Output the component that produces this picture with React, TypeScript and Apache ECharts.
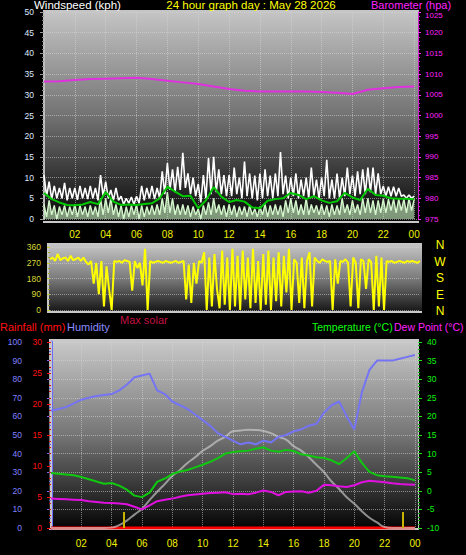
import { useEffect, useRef } from "react";
import * as echarts from "echarts";

// ---------- data ----------
const hourLabels = ["02", "04", "06", "08", "10", "12", "14", "16", "18", "20", "22", "00"];
const compassLabels = ["N", "W", "S", "E", "N"];
const baroMin = 975;
const baroMax = 1025;

// wind gust (kph), 10-minute samples 00:00 .. 24:00
const gust10 = [
  10.6, 5.5, 9, 4.8, 8, 5,
  7.5, 5, 8.7, 4.5, 7.5, 5,
  7.5, 4.6, 8, 5, 7.5, 4.8,
  8, 5, 7.5, 4.5, 10.6, 5.5,
  9, 5, 7, 4.5, 7.5, 4.5,
  5.5, 3.5, 5, 3.8, 5.3, 3.5,
  5.5, 3.8, 8, 4.5, 7.5, 5,
  8, 4.8, 7.5, 5, 11.5, 6,
  13.5, 7, 12, 6.5, 12.6, 7,
  16, 7.5, 11, 6, 10, 5.5,
  8.5, 4, 10.6, 5, 14.7, 6,
  15, 6.5, 12, 6, 10.6, 5.5,
  10.6, 5.5, 12.4, 6, 10, 5,
  13.9, 5.5, 11, 5, 10.5, 4.5,
  11, 5, 12, 5.5, 10.5, 5,
  11, 5.5, 16.2, 6, 10.5, 5,
  10, 5.5, 11, 5, 9.5, 5.5,
  10, 5, 12.4, 5.5, 9.5, 5,
  10, 5.5, 14.3, 5, 9.5, 5,
  11, 5, 10, 5.5, 12.4, 6,
  10.5, 5.5, 11.5, 6, 12, 6,
  12.4, 6.5, 12.4, 6, 11, 6,
  8, 5.5, 7.8, 5.5, 7.8, 5.5,
  7.5, 5.5, 5.8, 5, 5.8, 5,
  5.5,
];

// wind speed (kph), 10-minute samples
const speed10 = [
  3.5, 0.5, 4.5, 1, 3.3, 0,
  3, 1, 3.3, 0.5, 3, 1,
  3.5, 0.5, 3.3, 1, 3, 0.5,
  3.3, 1, 3, 0.5, 5, 1,
  5, 1.5, 5, 1, 3.5, 0.5,
  3.3, 0, 3, 0.5, 3.3, 1,
  3.5, 0, 3.3, 0.5, 3, 1,
  3.3, 1, 3.5, 1, 5, 1.5,
  6.5, 1.5, 5, 1, 3.5, 1,
  3.5, 1, 3.3, 0.5, 3, 1,
  2.5, 0, 3.3, 1, 4, 1,
  5, 1.5, 3.5, 1, 3.3, 0.5,
  3.5, 1, 3.3, 0.5, 3, 1,
  3, 0.5, 3.3, 1, 2.5, 0.5,
  3, 1, 3.5, 0.5, 3.3, 1,
  3.5, 1, 3.3, 0.5, 4.5, 1.5,
  5, 1.5, 4.5, 1, 3.5, 1,
  5, 1, 3.5, 1.5, 3.3, 1,
  3.5, 1, 3.3, 0.5, 3.5, 1,
  3.3, 1, 5, 1.5, 3.5, 1,
  4.5, 1.5, 3.5, 1, 5, 1.5,
  5, 1.5, 4.5, 1, 4.5, 1.5,
  4.8, 1.5, 4.8, 2, 4.8, 1.5,
  4.8, 2, 4.8, 1.5, 5, 2,
  4.8,
];

// average wind speed (kph), 30-minute samples
const avg30 = [
  6.3, 4.8, 4.0, 3.4, 3.3, 3.5, 4.1, 3.6, 6.5, 4.2, 3.4, 3.5,
  3.4, 3.6, 3.8, 5.0, 7.8, 6.6, 5.5, 5.6, 2.6, 4.5, 7.7, 5.4,
  4.1, 4.6, 4.2, 2.8, 2.6, 4.4, 4.8, 5.0, 6.3, 5.8, 4.8, 5.5,
  4.5, 3.9, 4.3, 6.3, 5.2, 4.6, 7.3, 5.8, 5.6, 5.0, 4.9, 4.9,
  4.8,
];

// barometer (hPa), hourly
const baroHourly = [
  1008.2, 1008.3, 1008.6, 1008.8, 1008.9, 1009.0, 1009.1, 1008.8, 1008.4, 1008.0,
  1007.6, 1007.0, 1006.4, 1006.0, 1005.8, 1005.8, 1005.8, 1005.8, 1005.7, 1005.5,
  1005.2, 1006.2, 1006.6, 1006.9, 1007.0,
];

// wind direction (degrees), 10-minute samples
const dir10 = [
  290, 300, 280, 320, 285, 295,
  300, 280, 310, 285, 290, 300,
  280, 300, 275, 260, 280, 150,
  270, 90, 280, 20, 250, 120,
  0, 280, 275, 280, 270, 285,
  280, 275, 110, 280, 240, 270,
  140, 350, 0, 280, 270, 275,
  280, 275, 270, 280, 275, 270,
  275, 280, 270, 275, 280, 60,
  260, 40, 270, 150, 280, 270,
  330, 0, 300, 20, 320, 120,
  10, 340, 30, 300, 0, 350,
  20, 310, 0, 340, 60, 300,
  10, 350, 40, 280, 0, 320,
  30, 340, 0, 300, 50, 330,
  20, 310, 100, 350, 0, 290,
  270, 40, 300, 10, 280, 330,
  20, 300, 280, 270, 290, 280,
  275, 280, 0, 290, 150, 280,
  275, 290, 270, 20, 300, 270,
  10, 290, 280, 120, 290, 275,
  0, 310, 20, 300, 0, 280,
  275, 280, 270, 275, 280, 275,
  270, 280, 275, 280, 275, 270,
  280,
];

// humidity (%), 30-minute samples
const humidity30 = [
  63, 64, 65, 67, 69, 70, 71, 71.5, 72, 74, 77, 81,
  82, 83, 74, 72, 68, 66, 64, 61, 58, 55, 51, 49,
  47, 45, 46, 45, 47, 46, 49, 50, 52, 53, 55, 56,
  62, 66, 68, 60, 53, 73, 85, 90, 90, 90, 91, 92,
  93,
];

// temperature (°C), 30-minute samples
const temp30 = [
  4.8, 4.6, 4.4, 4.2, 3.7, 3.1, 2.5, 1.9, 2.1, 1.4, 0.3, -1.3,
  -1.7, -0.5, 2.4, 3.3, 4.5, 5.2, 5.6, 6.3, 7.0, 7.8, 8.8, 10.0,
  10.4, 10.6, 10.8, 11.3, 11.7, 10.8, 10.5, 11.0, 10.7, 9.8, 9.5, 9.0,
  8.8, 8.2, 7.2, 8.8, 10.6, 7.5, 5.1, 4.2, 3.9, 3.8, 3.6, 3.4,
  2.8,
];

// dew point (°C), 30-minute samples
const dew30 = [
  -2.1, -2.2, -2.3, -2.4, -2.5, -2.8, -3.0, -3.2, -3.3, -3.4, -3.6, -4.3,
  -5.0, -3.9, -2.8, -2.4, -2.1, -1.6, -1.2, -1.0, -0.8, -0.6, -0.5, -0.4,
  -0.9, -0.8, -0.9, -0.5, 0.1, -0.3, -1.2, -0.3, -0.2, -0.1, -0.5, 0.0,
  1.6, 1.5, 1.2, 1.0, 1.5, 2.3, 2.7, 2.5, 2.3, 2.0, 1.8, 1.7,
  1.6,
];

// max solar (W/m²), 30-minute samples
const solar30 = [
  0, 0, 0, 0, 0, 0, 0, 0, 2, 15, 40, 72,
  104, 150, 195, 236, 280, 312, 350, 380, 415, 440, 470, 490,
  520, 524, 528, 527, 522, 510, 490, 475, 440, 416, 380, 340,
  300, 250, 210, 165, 130, 90, 55, 30, 5, 0, 0, 0,
  0,
];

// rainfall (mm), hourly
const rainHourly = [0, 0, 0, 0, 0, 0, 0, 0, 0, 0, 0, 0, 0, 0, 0, 0, 0, 0, 0, 0, 0, 0, 0, 0, 0];
const rainMarkTimes = [4.8, 23.2];

// ---------- helpers ----------
const pts = (arr: number[], step: number) => arr.map((v, i) => [i * step, v]);
const FONT = "Liberation Sans, Arial, sans-serif";
const hourFmt = (v: number) => {
  if (v <= 0 || Math.abs(v % 2) > 1e-6) return "";
  return hourLabels[v / 2 - 1] ?? "";
};
const plain = (v: number) => String(v);
const baroFmt = (v: number) => (v === baroMax ? `{t|${v}}` : String(v));
const grad = (top: string, mid: string, bottom: string) =>
  new echarts.graphic.LinearGradient(0, 0, 0, 1, [
    { offset: 0, color: top },
    { offset: 0.5, color: mid },
    { offset: 1, color: bottom },
  ]);

const gridLine = { show: true, lineStyle: { color: "rgba(215,215,215,0.55)", type: "dotted" as const, width: 1 } };

export default function App() {
  const ref = useRef<HTMLDivElement>(null);
  useEffect(() => {
    if (!ref.current) return;
    const chart = echarts.init(ref.current, null, { renderer: "svg" });

    const txt = (text: string, x: number, y: number, color: string, size = 11, align = "left") => ({
      type: "text",
      x,
      y,
      z: 50,
      style: { text, fill: color, font: `${size}px ${FONT}`, textAlign: align, textVerticalAlign: "middle" },
    });

    chart.setOption({
      animation: false,
      backgroundColor: "#000000",
      graphic: [
        { type: "rect", z: -10, shape: { x: 43, y: 10, width: 376, height: 213 }, style: { fill: grad("#c6c6c6", "#727272", "#040404") } },
        { type: "rect", z: -10, shape: { x: 47, y: 243, width: 375, height: 70 }, style: { fill: grad("#c8c8c8", "#7c7c7c", "#121212") } },
        { type: "rect", z: -10, shape: { x: 49, y: 339, width: 370, height: 191 }, style: { fill: grad("#cacaca", "#767676", "#020202") } },
        { type: "line", z: -5, shape: { x1: 43, y1: 222, x2: 419, y2: 222 }, style: { stroke: "#c8c8c8", lineWidth: 2 } },
        { type: "line", z: -5, shape: { x1: 47, y1: 312, x2: 422, y2: 312 }, style: { stroke: "#c8c8c8", lineWidth: 2 } },
        { type: "line", z: -5, shape: { x1: 48, y1: 243, x2: 48, y2: 313 }, style: { stroke: "#c8c8c8", lineWidth: 2 } },
        { type: "line", z: -5, shape: { x1: 49, y1: 529, x2: 419, y2: 529 }, style: { stroke: "#c8c8c8", lineWidth: 2 } },
        txt("Windspeed (kph)", 34, 5, "#ffffff", 11.5),
        txt("24 hour graph day : May 28 2026", 251, 5, "#ffff00", 11.5, "center"),
        txt("Barometer (hpa)", 371, 5, "#ff22ff", 11),
        ...compassLabels.map((c, i) => txt(c, 440, 245 + i * 16.5, "#ffff00", 12, "center")),
        txt("Rainfall (mm)", 0, 327, "#ff1010", 11),
        txt("Humidity", 67, 327, "#8c8cff", 11),
        txt("Max solar", 120, 320, "#c41040", 11),
        txt("Temperature (°C)", 312, 327, "#10ff10", 10.5),
        txt("Dew Point (°C)", 394, 327, "#ff22ff", 10.5),
      ],
      grid: [
        { left: 44, top: 12, width: 374, height: 207 },
        { left: 50, top: 247, width: 370, height: 63 },
        { left: 51, top: 342, width: 367, height: 186 },
      ],
      xAxis: [
        {
          gridIndex: 0, type: "value", min: 0, max: 24.25, interval: 2,
          axisLine: { show: false }, axisTick: { show: false },
          axisLabel: { color: "#f0f000", fontSize: 10, fontFamily: FONT, margin: 10, formatter: hourFmt },
          splitLine: gridLine,
        },
        {
          gridIndex: 1, type: "value", min: 0, max: 24, interval: 2,
          axisLine: { show: false }, axisTick: { show: false }, axisLabel: { show: false }, splitLine: { show: false },
        },
        {
          gridIndex: 2, type: "value", min: 0, max: 24.2, interval: 2,
          axisLine: { show: false }, axisTick: { show: false },
          axisLabel: { color: "#f0f000", fontSize: 10, fontFamily: FONT, margin: 10, formatter: hourFmt },
          splitLine: gridLine,
        },
      ],
      yAxis: [
        {
          gridIndex: 0, type: "value", position: "left", min: 0, max: 50, interval: 5,
          axisLine: { show: true, lineStyle: { color: "#c0c0c0", width: 2 } },
          axisTick: { show: true, length: 4, lineStyle: { color: "#9a9a9a" } },
          minorTick: { show: true, splitNumber: 5, length: 2, lineStyle: { color: "#8a8a8a" } },
          axisLabel: { color: "#dfe8ff", fontSize: 8.5, fontFamily: FONT, margin: 10, formatter: plain },
          splitLine: gridLine,
        },
        {
          gridIndex: 0, type: "value", position: "right", min: baroMin, max: baroMax, interval: 5,
          axisLine: { show: true, lineStyle: { color: "#d020d0", width: 1 } },
          axisTick: { show: true, length: 3, lineStyle: { color: "#ff30ff" } },
          minorTick: { show: true, splitNumber: 5, length: 2, lineStyle: { color: "#d020d0" } },
          axisLabel: {
            color: "#ff20ff", fontSize: 8, fontFamily: FONT, margin: 7, formatter: baroFmt,
            rich: { t: { color: "#ff20ff", fontSize: 8, fontFamily: FONT, padding: [6, 0, 0, 0] } },
          },
          splitLine: { show: false },
        },
        {
          gridIndex: 1, type: "value", position: "left", min: 0, max: 360, interval: 90,
          axisLine: { show: false },
          axisTick: { show: true, length: 3, lineStyle: { color: "#c8c830" } },
          minorTick: { show: true, splitNumber: 3, length: 2, lineStyle: { color: "#a0a020" } },
          axisLabel: { color: "#d8d838", fontSize: 8.5, fontFamily: FONT, margin: 9, formatter: plain },
          splitLine: gridLine,
        },
        {
          gridIndex: 2, type: "value", position: "left", offset: 21, min: 0, max: 100, interval: 10,
          axisLine: { show: true, lineStyle: { color: "#6a6aff", width: 3 } },
          axisTick: { show: true, length: 4, lineStyle: { color: "#7070ff" } },
          minorTick: { show: true, splitNumber: 2, length: 2, lineStyle: { color: "#6060e0" } },
          axisLabel: { color: "#8080ff", fontSize: 8.5, fontFamily: FONT, margin: 8, formatter: plain },
          splitLine: { show: false },
        },
        {
          gridIndex: 2, type: "value", position: "left", min: 0, max: 30, interval: 5,
          axisLine: { show: true, lineStyle: { color: "#c8c8c8", width: 2 } },
          axisTick: { show: true, length: 4, lineStyle: { color: "#ff1010" } },
          minorTick: { show: true, splitNumber: 5, length: 2, lineStyle: { color: "#d01010" } },
          axisLabel: { color: "#ff1010", fontSize: 8.5, fontFamily: FONT, margin: 9, formatter: plain },
          splitLine: { show: false },
        },
        {
          gridIndex: 2, type: "value", position: "right", min: -10, max: 40, interval: 5,
          axisLine: { show: true, lineStyle: { color: "#c8c8c8", width: 1 } },
          axisTick: { show: true, length: 4, lineStyle: { color: "#20e020" } },
          minorTick: { show: true, splitNumber: 5, length: 2, lineStyle: { color: "#10b010" } },
          axisLabel: { color: "#10f010", fontSize: 8.5, fontFamily: FONT, margin: 9, formatter: plain },
          splitLine: gridLine,
        },
        { gridIndex: 2, type: "value", show: false, min: 0, max: 1000 },
      ],
      series: [
        {
          name: "Gust", type: "line", xAxisIndex: 0, yAxisIndex: 0, data: pts(gust10, 1 / 6),
          showSymbol: false, lineStyle: { color: "#ffffff", width: 1.6 }, z: 2,
        },
        {
          name: "Speed", type: "line", xAxisIndex: 0, yAxisIndex: 0, data: pts(speed10, 1 / 6),
          showSymbol: false, lineStyle: { color: "#d4f6cc", width: 1.4 },
          areaStyle: { color: "rgba(200,240,190,0.88)" }, z: 3,
        },
        {
          name: "Average", type: "line", xAxisIndex: 0, yAxisIndex: 0, data: pts(avg30, 0.5),
          showSymbol: false, lineStyle: { color: "#00c800", width: 2 }, z: 4,
        },
        {
          name: "Barometer", type: "line", xAxisIndex: 0, yAxisIndex: 1, data: pts(baroHourly, 1),
          showSymbol: false, lineStyle: { color: "#e030e0", width: 2 }, z: 4,
        },
        {
          name: "Direction", type: "line", xAxisIndex: 1, yAxisIndex: 2, data: pts(dir10, 1 / 6),
          showSymbol: false, lineStyle: { color: "#ffff00", width: 2 }, z: 3,
        },
        {
          name: "Rainfall", type: "line", xAxisIndex: 2, yAxisIndex: 4, data: pts(rainHourly, 1),
          showSymbol: false, lineStyle: { color: "#ff0000", width: 3 }, z: 3,
          markLine: {
            silent: true, symbol: "none", label: { show: false },
            lineStyle: { color: "#c8b400", width: 2, type: "solid" },
            data: rainMarkTimes.map((t) => [{ coord: [t, 0] }, { coord: [t, 2.6] }]),
          },
        },
        {
          name: "Max solar", type: "line", xAxisIndex: 2, yAxisIndex: 6, data: pts(solar30, 0.5),
          showSymbol: false, smooth: true, lineStyle: { color: "#d0d0d0", width: 2, opacity: 0.65 }, z: 4,
        },
        {
          name: "Humidity", type: "line", xAxisIndex: 2, yAxisIndex: 3, data: pts(humidity30, 0.5),
          showSymbol: false, lineStyle: { color: "#7474f4", width: 2 }, z: 5,
        },
        {
          name: "Temperature", type: "line", xAxisIndex: 2, yAxisIndex: 5, data: pts(temp30, 0.5),
          showSymbol: false, lineStyle: { color: "#10c810", width: 2 }, z: 5,
        },
        {
          name: "Dew Point", type: "line", xAxisIndex: 2, yAxisIndex: 5, data: pts(dew30, 0.5),
          showSymbol: false, lineStyle: { color: "#e010e0", width: 2 }, z: 5,
        },
      ],
    });
    return () => chart.dispose();
  }, []);
  return <div ref={ref} style={{ width: 466, height: 555, position: "absolute", left: 0, top: 0 }} />;
}
